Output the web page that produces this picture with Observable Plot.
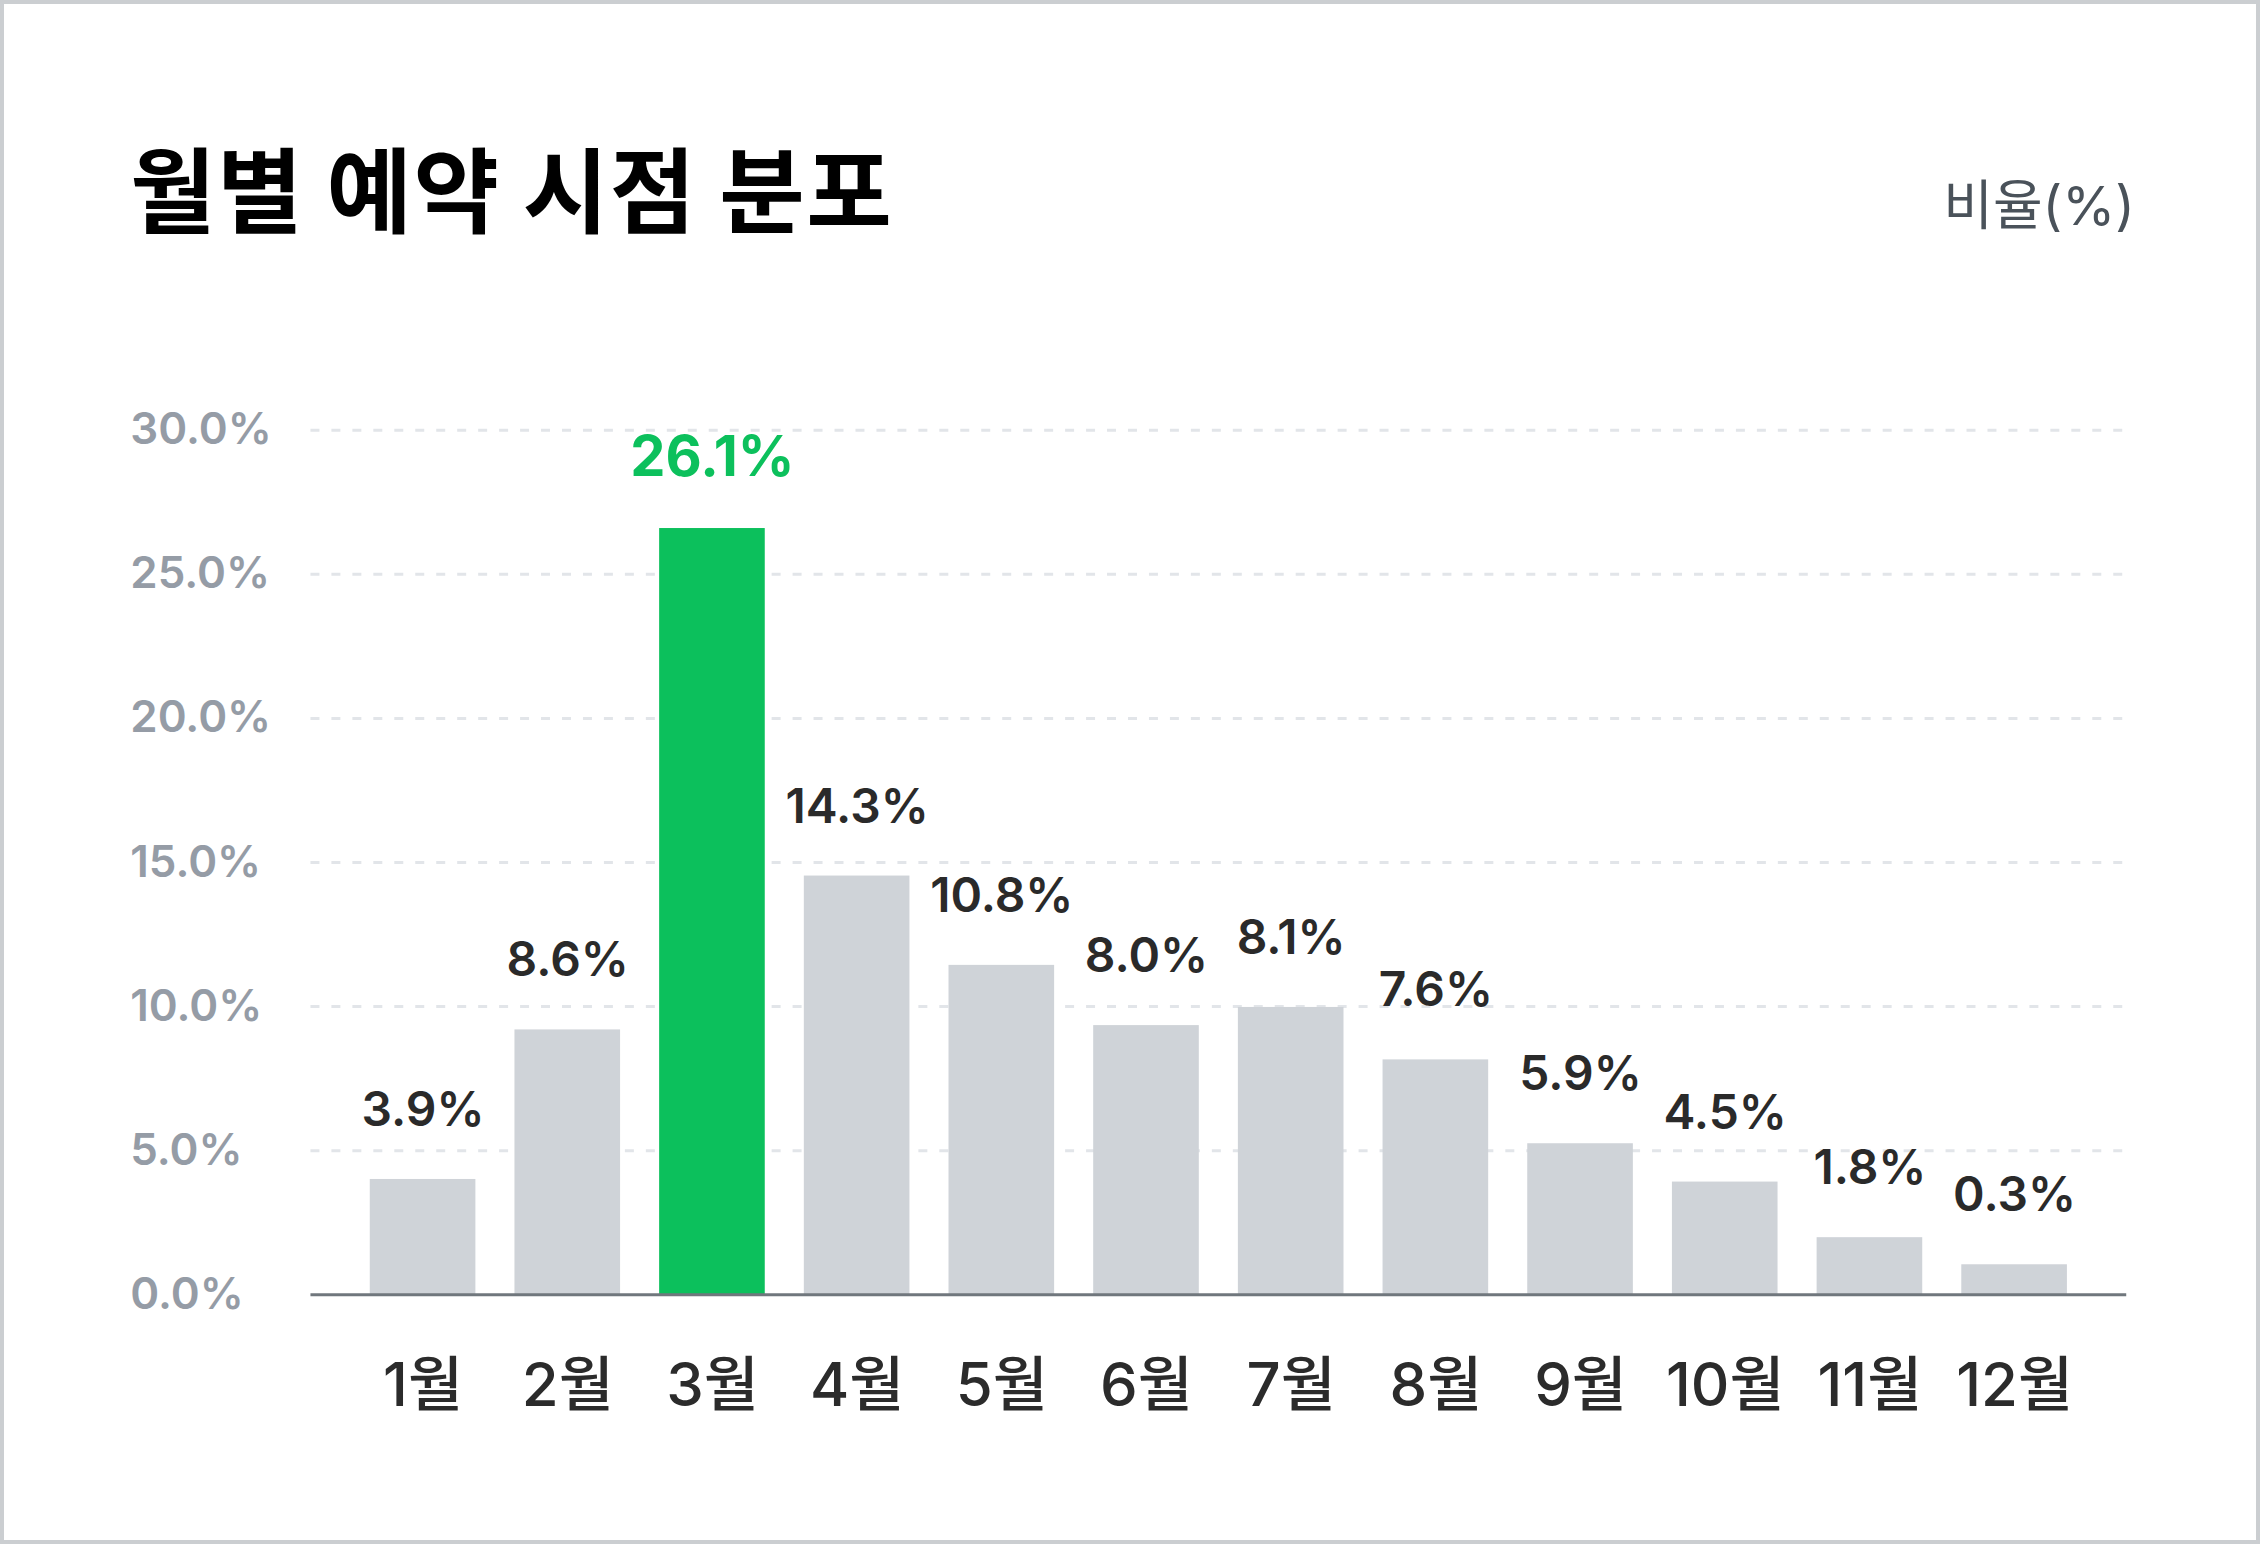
<!DOCTYPE html>
<html>
<head>
<meta charset="utf-8">
<script src="https://cdn.jsdelivr.net/npm/d3@7"></script>
<script src="https://cdn.jsdelivr.net/npm/@observablehq/plot@0.6"></script>
<style>
  html, body { margin: 0; padding: 0; background: #fff; }
  #card {
    position: relative; width: 2260px; height: 1544px; box-sizing: border-box;
    border: 4px solid #cbced1; background: #fff; overflow: hidden;
    font-family: "Inter", "Noto Sans CJK KR", sans-serif;
  }
  #title {
    position: absolute; left: 126px; top: 135px; margin: 0;
    font-family: "Noto Sans CJK KR", sans-serif; font-weight: 700;
    font-size: 93px; line-height: 1; color: #000; letter-spacing: 1.4px;
  }
  #unit {
    position: absolute; right: 121px; top: 175px;
    font-family: "Inter", "Noto Sans CJK KR", sans-serif; font-weight: 400;
    font-size: 54px; line-height: 1; color: #4a525a;
  }
  #chart { position: absolute; left: -4px; top: 296px; }
</style>
</head>
<body>
<div id="card">
  <div id="title">월별 예약 시점 분포</div>
  <div id="unit">비율(%)</div>
  <div id="chart"></div>
</div>
<script>
const months = ["1월","2월","3월","4월","5월","6월","7월","8월","9월","10월","11월","12월"];
const barValues = [4.00, 9.19, 26.59, 14.53, 11.43, 9.34, 9.97, 8.15, 5.24, 3.91, 1.98, 1.04];
const valueLabels = ["3.9%","8.6%","26.1%","14.3%","10.8%","8.0%","8.1%","7.6%","5.9%","4.5%","1.8%","0.3%"];
const highlightMonth = "3월";
const yTicks = [0, 5, 10, 15, 20, 25, 30];
const gridTicks = [5, 10, 15, 20, 25, 30];

const GRAY = "#cfd3d8";
const GREEN = "#0cc05c";

const data = months.map((m, i) => ({month: m, value: barValues[i], label: valueLabels[i], hi: m === highlightMonth}));

const chart = Plot.plot({
  width: 2260,
  height: 1244,
  marginLeft: 311,
  marginRight: 130,
  marginTop: 130,
  marginBottom: 248,
  style: {fontFamily: "Inter, 'Noto Sans CJK KR', sans-serif", background: "transparent", overflow: "visible"},
  x: {domain: months, paddingInner: 0.27, paddingOuter: 0.41, round: false, label: null},
  y: {domain: [0, 30], label: null},
  color: {type: "identity"},
  marks: [
    Plot.gridY(gridTicks, {stroke: "#e2e5e9", strokeOpacity: 1, strokeWidth: 3, strokeDasharray: "9,12"}),
    Plot.barY(data, {x: "month", y: "value", fill: d => d.hi ? GREEN : GRAY}),
    Plot.ruleY([0], {stroke: "#70777d", strokeWidth: 3}),
    Plot.text(data.filter(d => !d.hi), {x: "month", y: "value", text: "label", dy: -69, lineAnchor: "middle",
      fill: "#2a2a2a", fontSize: 48, fontWeight: 600}),
    Plot.text(data.filter(d => d.hi), {x: "month", y: "value", text: "label", dy: -71, lineAnchor: "middle",
      fill: GREEN, fontSize: 56, fontWeight: 700}),
    Plot.axisY(yTicks, {tickSize: 0, tickPadding: 0, textAnchor: "start", dx: -181, fontSize: 44, fontWeight: 600,
      fill: "#959ca6", fontVariant: "normal", tickFormat: d => d.toFixed(1) + "%"}),
    Plot.axisX({tickSize: 0, tickPadding: 0, lineAnchor: "middle", dy: 92, fontSize: 60, fontWeight: 500,
      fill: "#2b2b2b", fontVariant: "normal"})
  ]
});
document.getElementById("chart").appendChild(chart);
</script>
</body>
</html>
